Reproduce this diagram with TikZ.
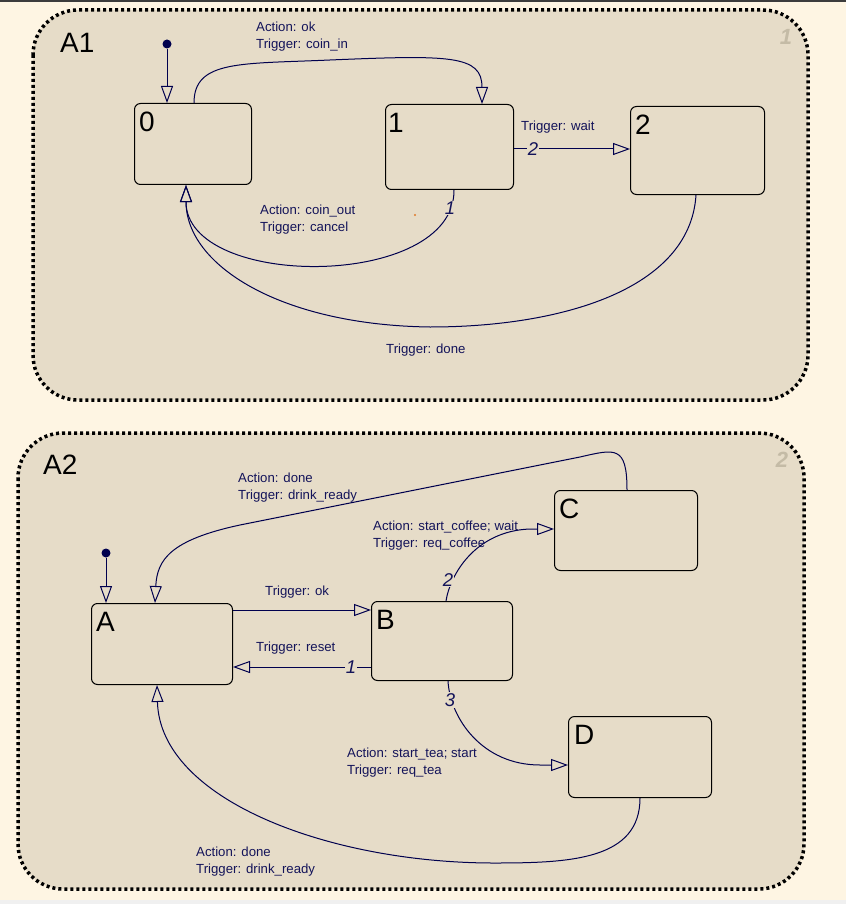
\documentclass[tikz,border=0pt]{standalone}
\usepackage{fontspec}
\setmainfont{Liberation Sans}
\usetikzlibrary{arrows.meta}

\definecolor{canvasbg}{HTML}{FEF5E3}
\definecolor{regionfill}{HTML}{E6DCC8}
\definecolor{wire}{HTML}{00004E}
\definecolor{wiretext}{HTML}{14145A}
\definecolor{regionnum}{HTML}{C4BBA6}
\definecolor{frameline}{HTML}{3C3C3C}
\definecolor{statusbar}{HTML}{F0F0F0}
\definecolor{speck}{HTML}{E07828}

\begin{document}
\begin{tikzpicture}[x=1pt,y=-1pt,
  region/.style={draw=black, line width=3.5pt, dash pattern=on 3pt off 3pt,
    fill=regionfill, rounded corners=45pt},
  stbox/.style={draw=black, line width=1pt, rounded corners=6pt,
    inner sep=0pt, anchor=north west},
  stname/.style={font=\fontsize{28}{28}\selectfont, text=black,
    anchor=north west, inner sep=0pt},
  regname/.style={font=\fontsize{28}{28}\selectfont, text=black,
    anchor=north west, inner sep=0pt},
  regnum/.style={font=\fontsize{22}{22}\selectfont\bfseries\itshape,
    text=regionnum, inner sep=0pt},
  trans/.style={draw=wire, line width=1pt,
    -{Triangle[open, length=17pt, width=12pt]}},
  initdot/.style={circle, fill=wire, inner sep=0pt, minimum size=9pt},
  lbl/.style={text=wiretext, font=\fontsize{13.2}{16.5}\selectfont,
    align=left, anchor=north west, inner sep=0pt},
  prio/.style={text=wiretext, font=\fontsize{18.5}{18.5}\selectfont\itshape,
    fill=regionfill, inner sep=1pt},
]
\useasboundingbox (0,0) rectangle (846,904);
\fill[canvasbg] (0,0) rectangle (846,904);
\fill[frameline] (0,0) rectangle (846,2);
\fill[statusbar] (0,900) rectangle (846,904);

% ---------------- region A1 ----------------
\draw[region] (33,10) rectangle (808,400);
\node[regname] (a1name) at (60,33) {A1};
\node[regnum] (a1num) at (786,37) {1};

\node[stbox, minimum width=117pt, minimum height=81pt] (s0) at (134,103) {};
\node[stbox, minimum width=128pt, minimum height=85pt] (s1) at (385,104) {};
\node[stbox, minimum width=134pt, minimum height=88pt] (s2) at (630,106) {};
\node[stname] (s0name) at (139,112) {0};
\node[stname] (s1name) at (388,113) {1};
\node[stname] (s2name) at (635,115) {2};

\node[initdot] (i1) at (167,44) {};
\draw[trans] (i1) -- ([xshift=33pt]s0.north west);

% coin_in: 0 -> 1
\draw[trans] ([xshift=60pt]s0.north west)
  .. controls (194,60) and (240,64) .. (330,60)
  .. controls (450,55) and (482,55) .. ([xshift=97pt]s1.north west);
\node[lbl] (l01) at (256,22) {Action: ok\\Trigger: coin\_in};

% wait: 1 -> 2
\draw[trans] (s1.east |- 0,149) -- (s2.west |- 0,149);
\node[prio] (p12) at (533,149) {2};
\node[lbl] (l12) at (521,121) {Trigger: wait};

% cancel: 1 -> 0
\draw[trans] ([xshift=69pt]s1.south west)
  .. controls (455,290) and (186,290) .. ([xshift=52pt]s0.south west);
\node[prio] (p10) at (450,208) {1};
\node[lbl] (l10) at (260,205) {Action: coin\_out\\Trigger: cancel};

% done: 2 -> 0
\draw[trans] ([xshift=66pt]s2.south west)
  .. controls (690,290) and (560,327) .. (430,327)
  .. controls (280,325) and (186,265) .. ([xshift=52pt]s0.south west);
\node[lbl] (l20) at (386,344) {Trigger: done};

\fill[speck] (415,215) circle (1.1);

% ---------------- region A2 ----------------
\draw[region] (18,433) rectangle (804,889);
\node[regname] (a2name) at (43,455) {A2};
\node[regnum] (a2num) at (782,460) {2};

\node[stbox, minimum width=141pt, minimum height=81pt] (sA) at (91,603) {};
\node[stbox, minimum width=141pt, minimum height=79pt] (sB) at (371,601) {};
\node[stbox, minimum width=143pt, minimum height=80pt] (sC) at (554,490) {};
\node[stbox, minimum width=143pt, minimum height=81pt] (sD) at (568,716) {};
\node[stname] (sAname) at (96,612) {A};
\node[stname] (sBname) at (376,610) {B};
\node[stname] (sCname) at (559,499) {C};
\node[stname] (sDname) at (574,725) {D};

\node[initdot] (i2) at (106,553) {};
\draw[trans] (i2) -- ([xshift=15pt]sA.north west);

% drink_ready: C -> A
\draw[trans] ([xshift=73pt]sC.north west)
  .. controls (627,445) and (615,449) .. (580,457)
  -- (240,525)
  .. controls (170,540) and (157,560) .. ([xshift=64pt]sA.north west);
\node[lbl] (lCA) at (238,473) {Action: done\\Trigger: drink\_ready};

% ok: A -> B
\draw[trans] (sA.east |- 0,610) -- (sB.west |- 0,610);
\node[lbl] (lAB) at (265,586) {Trigger: ok};

% reset: B -> A
\draw[trans] (sB.west |- 0,667) -- (sA.east |- 0,667);
\node[prio] (pBA) at (351,667) {1};
\node[lbl] (lBA) at (256,642) {Trigger: reset};

% req_coffee: B -> C
\draw[trans] ([xshift=75pt]sB.north west)
  .. controls (450,575) and (475,531) .. (530,529)
  -- (sC.west |- 0,529);
\node[prio] (pBC) at (448,580) {2};
\node[lbl] (lBC) at (373,521) {Action: start\_coffee; wait\\Trigger: req\_coffee};

% req_tea: B -> D
\draw[trans] ([xshift=77pt]sB.south west)
  .. controls (450,718) and (482,765) .. (540,765)
  -- (sD.west |- 0,765);
\node[prio] (pBD) at (450,700) {3};
\node[lbl] (lBD) at (347,748) {Action: start\_tea; start\\Trigger: req\_tea};

% drink_ready: D -> A
\draw[trans] ([xshift=72pt]sD.south west)
  .. controls (640,860) and (570,863) .. (494,863)
  .. controls (330,863) and (160,800) .. ([xshift=66pt]sA.south west);
\node[lbl] (lDA) at (196,847) {Action: done\\Trigger: drink\_ready};

\end{tikzpicture}
\end{document}
